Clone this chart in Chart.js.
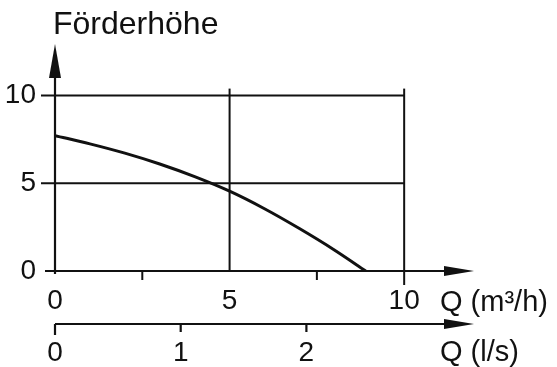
<!DOCTYPE html>
<html>
<head>
<meta charset="utf-8">
<script src="https://cdn.jsdelivr.net/npm/chart.js@4/dist/chart.umd.min.js"></script>
<style>
    body { margin: 0; background: #fff; }
    #wrap { width: 557px; height: 367px; position: relative; }
</style>
</head>
<body>
<div id="wrap"><canvas id="pumpChart"></canvas></div>
<script>
// Pump curve
const flowM3h = [0, 1, 2, 3, 4, 5, 6, 7, 8, 8.9];
const headM = [7.72, 7.25, 6.72, 6.1, 5.38, 4.55, 3.55, 2.42, 1.2, 0];

// Tick labels
const m3hTicks = [0, 5, 10];
const lsTicks = [0, 1, 2];
const headTicks = [0, 5, 10];
const minorM3hTicks = [2.5, 7.5];

const FONT = '"Liberation Sans", Arial, sans-serif';
const INK = '#111';

// Draws the arrowed axes, the grid and the unit labels
const axesPlugin = {
    id: 'axesPlugin',
    beforeDatasetsDraw(chart) {
        const ctx = chart.ctx;
        const x = chart.scales.x, y = chart.scales.y, x2 = chart.scales.x2;
        const x0 = x.getPixelForValue(0);
        const y0 = y.getPixelForValue(0);
        const xTop = x.getPixelForValue(10);

        ctx.save();
        ctx.strokeStyle = INK;
        ctx.fillStyle = INK;
        ctx.lineWidth = 2;

        // horizontal grid
        headTicks.filter(v => v > 0).forEach(v => {
            const py = y.getPixelForValue(v);
            ctx.beginPath();
            ctx.moveTo(x0 - 14, py);
            ctx.lineTo(xTop, py);
            ctx.stroke();
        });

        // vertical grid
        m3hTicks.filter(v => v > 0).forEach(v => {
            const px = x.getPixelForValue(v);
            ctx.beginPath();
            ctx.moveTo(px, y.getPixelForValue(10.4));
            ctx.lineTo(px, v === 10 ? y0 + 14 : y0);
            ctx.stroke();
        });

        // minor ticks
        minorM3hTicks.forEach(v => {
            const px = x.getPixelForValue(v);
            ctx.beginPath();
            ctx.moveTo(px, y0);
            ctx.lineTo(px, y0 + 9);
            ctx.stroke();
        });

        ctx.lineWidth = 2.2;

        // y axis with arrow
        ctx.beginPath();
        ctx.moveTo(x0, y0 + 3);
        ctx.lineTo(x0, y.top + 20);
        ctx.stroke();
        ctx.beginPath();
        ctx.moveTo(x0, y.top + 1);
        ctx.lineTo(x0 - 6, y.top + 35);
        ctx.lineTo(x0 + 6, y.top + 35);
        ctx.closePath();
        ctx.fill();

        // x axis (m³/h) with arrow
        ctx.beginPath();
        ctx.moveTo(x0 - 10, y0);
        ctx.lineTo(x.right - 20, y0);
        ctx.stroke();
        drawArrowRight(ctx, x.right, y0);

        // second x axis (l/s)
        const ly = x2.top;
        ctx.beginPath();
        ctx.moveTo(x2.getPixelForValue(0), ly);
        ctx.lineTo(x2.right - 20, ly);
        ctx.stroke();
        drawArrowRight(ctx, x2.right, ly);
        lsTicks.forEach(v => {
            const px = x2.getPixelForValue(v);
            ctx.beginPath();
            ctx.moveTo(px, ly);
            ctx.lineTo(px, ly + (v === 0 ? 11 : 8));
            ctx.stroke();
        });

        // texts
        ctx.textBaseline = 'alphabetic';
        ctx.textAlign = 'left';
        ctx.font = '32px ' + FONT;
        ctx.fillText('Förderhöhe', x0 - 2, 34);
        ctx.font = '29px ' + FONT;
        ctx.fillText('Q (m³/h)', 440, 311);
        ctx.fillText('Q (l/s)', 440, 361);
        ctx.restore();
    }
};

function drawArrowRight(ctx, tipX, py) {
    ctx.beginPath();
    ctx.moveTo(tipX, py);
    ctx.lineTo(tipX - 30, py - 5);
    ctx.lineTo(tipX - 30, py + 5);
    ctx.closePath();
    ctx.fill();
}

const tickFont = { family: FONT, size: 28 };

new Chart(document.getElementById('pumpChart'), {
    type: 'line',
    data: {
        datasets: [{
            data: flowM3h.map((q, i) => ({ x: q, y: headM[i] })),
            borderColor: INK,
            borderWidth: 3,
            pointRadius: 0,
            cubicInterpolationMode: 'monotone',
            fill: false
        }]
    },
    options: {
        responsive: true,
        maintainAspectRatio: false,
        animation: false,
        layout: { padding: { top: 43, right: 83, left: 0, bottom: 0 } },
        plugins: { legend: { display: false }, tooltip: { enabled: false } },
        scales: {
            x: {
                type: 'linear',
                position: 'bottom',
                weight: 0,
                min: 0,
                max: 12,
                afterBuildTicks: s => { s.ticks = m3hTicks.map(v => ({ value: v })); },
                afterFit: s => { s.height = 53; },
                grid: { display: false, drawTicks: false },
                border: { display: false },
                ticks: { font: tickFont, color: INK, padding: 13, maxRotation: 0, autoSkip: false }
            },
            x2: {
                type: 'linear',
                position: 'bottom',
                weight: 1,
                min: 0,
                max: 12 / 3.6,
                afterBuildTicks: s => { s.ticks = lsTicks.map(v => ({ value: v })); },
                afterFit: s => { s.height = 43; },
                grid: { display: false, drawTicks: false },
                border: { display: false },
                ticks: { font: tickFont, color: INK, padding: 12, maxRotation: 0, autoSkip: false }
            },
            y: {
                type: 'linear',
                min: 0,
                max: 13,
                afterBuildTicks: s => { s.ticks = headTicks.map(v => ({ value: v })); },
                afterFit: s => { s.width = 55; },
                grid: { display: false, drawTicks: false },
                border: { display: false },
                ticks: { font: tickFont, color: INK, padding: 19 }
            }
        }
    },
    plugins: [axesPlugin]
});
</script>
</body>
</html>
